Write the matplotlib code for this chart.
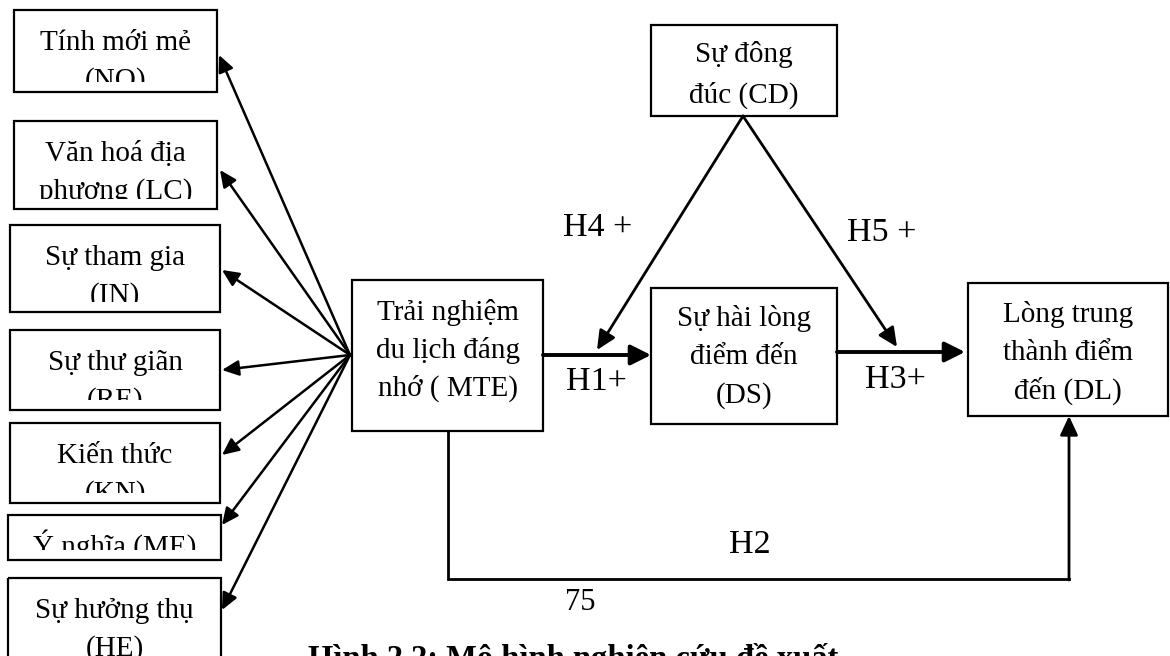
import matplotlib.pyplot as plt
from matplotlib.patches import Rectangle
from matplotlib.transforms import Bbox, TransformedBbox

# serif like the Word original; DejaVu only as glyph fallback
plt.rcParams["font.family"] = ["Liberation Serif", "DejaVu Serif"]

# ---- diagram content ----
factor_line1 = ["Tính mới mẻ", "Văn hoá địa", "Sự tham gia", "Sự thư giãn",
                "Kiến thức", "Ý nghĩa (ME)", "Sự hưởng thụ"]
factor_line2 = ["(NO)", "phương (LC)", "(IN)", "(RE)", "(KN)", "", "(HE)"]

mte_text = ["Trải nghiệm", "du lịch đáng", "nhớ ( MTE)"]
ds_text = ["Sự hài lòng", "điểm đến", "(DS)"]
dl_text = ["Lòng trung", "thành điểm", "đến (DL)"]
cd_text = ["Sự đông", "đúc (CD)"]

hyp_labels = ["H1+", "H2", "H3+", "H4 +", "H5 +"]
page_number = "75"
caption = "Hình 2.2: Mô hình nghiên cứu đề xuất"

# ---- layout (pixels, y down) ----
# left factor boxes: x0, x1, top, bottom
factor_boxes = [(14, 217, 10, 92), (14, 217, 121, 209), (10, 220, 225, 312),
                (10, 220, 330, 410), (10, 220, 423, 503), (8, 221, 515, 560),
                (8, 221, 578, 670)]
factor_tips = [(219, 55), (220, 170), (222, 270), (222, 370),
               (222, 455), (222, 525), (222, 610)]
hub = (350, 355)

mte_box = (352, 543, 280, 431)
ds_box = (651, 837, 288, 424)
dl_box = (968, 1168, 283, 416)
cd_box = (651, 837, 25, 116)

fig = plt.figure(figsize=(11.7, 6.56), dpi=100)
ax = fig.add_axes([0, 0, 1, 1])
ax.set_xlim(0, 1170)
ax.set_ylim(656, 0)
ax.axis("off")

FS = 21


def box(b, lw=1.6):
    x0, x1, t, btm = b
    ax.add_patch(Rectangle((x0, t), x1 - x0, btm - t, fill=False,
                           edgecolor="black", lw=lw, zorder=2))


def box_text(b, lines, first, step=39, clip=None):
    x0, x1, t, btm = b
    cx = (x0 + x1) / 2
    for i, s in enumerate(lines):
        if not s:
            continue
        txt = ax.text(cx, t + first + i * step, s, ha="center", va="center",
                      fontsize=FS, zorder=3)
        if clip is not None:
            # Word cuts the last line off inside these boxes
            cb = TransformedBbox(Bbox([[x0, t], [x1, clip]]), ax.transData)
            txt.set_clip_box(cb)
            txt.set_clip_on(True)


def arrow(p0, p1, lw=1.8, hl=14, hw=6.5):
    ax.annotate("", xy=p1, xytext=p0,
                arrowprops=dict(arrowstyle=f"-|>,head_length={hl/10:.2f},head_width={hw/10:.2f}",
                                mutation_scale=10 * 72 / 100, lw=lw, color="black",
                                shrinkA=0, shrinkB=0), zorder=4)


# left factors with clipped second lines
for b, l1, l2, tip in zip(factor_boxes, factor_line1, factor_line2, factor_tips):
    box(b)
    first = 33 if b[3] - b[2] > 60 else 30
    box_text(b, [l1, l2], first, step=38, clip=b[3] - 10 if b[3] < 656 else None)
    arrow(hub, tip)

# main boxes
box(mte_box)
box_text(mte_box, mte_text, 32, step=38)
box(ds_box)
box_text(ds_box, ds_text, 30, step=39)
box(dl_box)
box_text(dl_box, dl_text, 32, step=38)
box(cd_box)
box_text(cd_box, cd_text, 30, step=40)

# main paths
arrow((mte_box[1], 355), (ds_box[0], 355), lw=2.8, hl=17, hw=8.5)
arrow((ds_box[1], 352), (dl_box[0] - 3, 352), lw=2.8, hl=17, hw=8.5)
apex = ((cd_box[0] + cd_box[1]) / 2 - 1, cd_box[3])
arrow(apex, (597, 350), lw=2.0, hl=16, hw=7.5)
arrow(apex, (897, 347), lw=2.0, hl=16, hw=7.5)

# H2 path under the boxes
h2_x0 = 448
h2_x1 = 1069
h2_y = 579
ax.plot([h2_x0, h2_x0, h2_x1], [mte_box[3], h2_y, h2_y], color="black",
        lw=2.0, solid_joinstyle="miter", zorder=4)
arrow((h2_x1, h2_y + 1), (h2_x1, dl_box[3]), lw=2.0, hl=16, hw=7.5)

# hypothesis labels
label_pos = [(596, 382), (750, 545), (895, 380), (598, 228), (882, 233)]
for s, (x, y) in zip(hyp_labels, label_pos):
    ax.text(x, y, s, ha="center", va="center", fontsize=24.5, zorder=5)

ax.text(580, 602, page_number, ha="center", va="center", fontsize=22)
ax.text(308, 668, caption, ha="left", va="baseline", fontsize=23.5,
        fontweight="bold")

fig.savefig("out.png", dpi=100)
